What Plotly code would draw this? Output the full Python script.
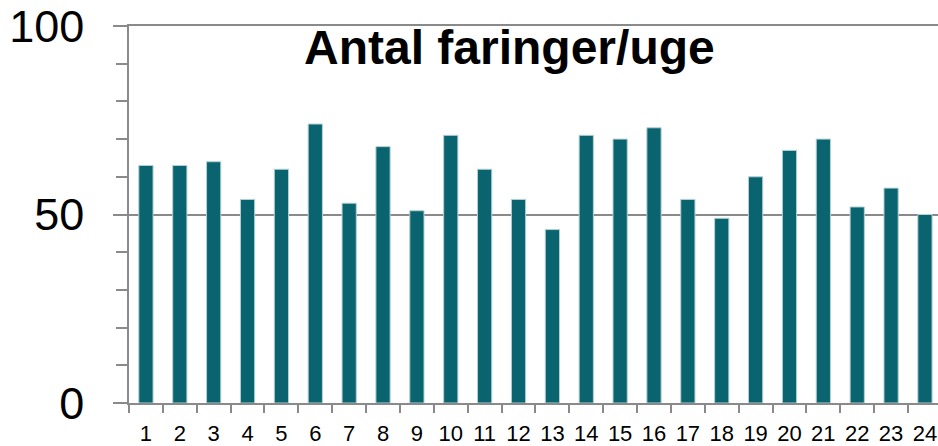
import plotly.graph_objects as go

weeks = [str(i) for i in range(1, 25)]
values = [63, 63, 64, 54, 62, 74, 53, 68, 51, 71, 62, 54, 46, 71, 70, 73, 54, 49, 60, 67, 70, 52, 57, 50]
title_text = "Antal faringer/uge"

axis_col = "#8a8a8a"
bar_col = "#09646F"

fig = go.Figure()
fig.add_trace(go.Bar(
    x=weeks, y=values,
    marker=dict(color=bar_col, line=dict(color="#b5d0d4", width=1)),
    width=0.42,
))

fig.update_layout(
    width=938, height=446,
    margin=dict(l=129, r=0, t=26, b=43),
    paper_bgcolor="white", plot_bgcolor="white",
    showlegend=False,
    font=dict(family="Liberation Sans, Arial, sans-serif", color="black"),
    bargap=0.58,
)

fig.update_xaxes(
    type="category",
    range=[-0.5, 23.385],
    automargin=False,
    showline=True, linecolor=axis_col, linewidth=1.5, mirror=True,
    ticks="outside", tickson="boundaries", ticklen=8, tickcolor=axis_col, tickwidth=1.5,
    tickfont=dict(size=22, color="black"),
    tickangle=0,
    ticklabelstandoff=10,
    showgrid=False,
)

fig.update_yaxes(
    range=[0, 100],
    automargin=False,
    tickvals=[0, 50, 100],
    showline=True, linecolor=axis_col, linewidth=1.5,
    ticks="outside", ticklen=14, tickcolor=axis_col, tickwidth=1.5,
    minor=dict(dtick=10, ticks="outside", ticklen=11, tickcolor=axis_col, tickwidth=1.5, showgrid=False),
    showgrid=True, gridcolor=axis_col, gridwidth=1.5,
    tickfont=dict(size=45, color="black"),
    ticklabelstandoff=20,
    zeroline=False,
)

fig.add_annotation(
    text="<b>" + title_text + "</b>",
    xref="paper", yref="y", x=(509.5 - 129) / 809, y=94.3,
    xanchor="center", yanchor="middle", showarrow=False,
    font=dict(size=48, color="black", family="Liberation Sans, Arial, sans-serif"),
)

fig.write_html(
    "out.html",
    config={"displayModeBar": False},
    post_script="document.body.style.margin='0';document.body.style.overflow='hidden';",
)
